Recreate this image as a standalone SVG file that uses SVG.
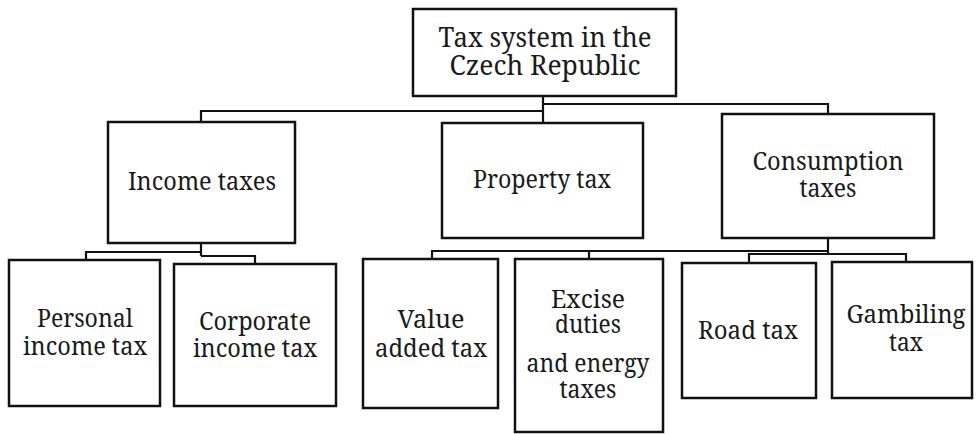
<svg xmlns="http://www.w3.org/2000/svg" width="976" height="434" viewBox="0 0 976 434">
<style>
.box{fill:#fff;stroke:#111;stroke-width:2.5}
.lbl{font-family:'Noto Serif','DejaVu Serif','Liberation Serif',serif;font-size:25px;fill:#1a1a1a;text-anchor:middle}
.root{font-size:27px}
.con{fill:none;stroke:#111;stroke-width:2.2}
</style>
<rect width="976" height="434" fill="#fff"/>
<g id="connectors">
<path class="con" d="M543,96V123M543,111H201V122M543,104H828V114"/>
<path class="con" d="M201,243V256M201,252H86V260M201,256H255V264"/>
<path class="con" d="M828,238V254M828,251H432V259M589,251V259M828,254H749V263M828,254H906V262"/>
</g>
<g id="root"><rect class="box" x="413" y="9" width="263" height="87"/><text class="lbl root" x="545" y="47" textLength="213" lengthAdjust="spacingAndGlyphs">Tax system in the</text><text class="lbl root" x="545" y="75" textLength="191" lengthAdjust="spacingAndGlyphs">Czech Republic</text></g>
<g id="income"><rect class="box" x="108" y="122" width="187" height="121"/><text class="lbl" x="202" y="190" textLength="148" lengthAdjust="spacingAndGlyphs">Income taxes</text></g>
<g id="property"><rect class="box" x="442" y="123" width="201" height="115"/><text class="lbl" x="542" y="188" textLength="138" lengthAdjust="spacingAndGlyphs">Property tax</text></g>
<g id="consumption"><rect class="box" x="722" y="114" width="212" height="124"/><text class="lbl" x="828" y="170" textLength="151" lengthAdjust="spacingAndGlyphs">Consumption</text><text class="lbl" x="828" y="197" textLength="57" lengthAdjust="spacingAndGlyphs">taxes</text></g>
<g id="personal"><rect class="box" x="9" y="260" width="151" height="146"/><text class="lbl" x="85" y="327" textLength="96" lengthAdjust="spacingAndGlyphs">Personal</text><text class="lbl" x="85" y="355" textLength="124" lengthAdjust="spacingAndGlyphs">income tax</text></g>
<g id="corporate"><rect class="box" x="174" y="264" width="162" height="142"/><text class="lbl" x="255" y="330" textLength="112" lengthAdjust="spacingAndGlyphs">Corporate</text><text class="lbl" x="255" y="357" textLength="124" lengthAdjust="spacingAndGlyphs">income tax</text></g>
<g id="vat"><rect class="box" x="363" y="259" width="135" height="149"/><text class="lbl" x="431" y="328" textLength="67" lengthAdjust="spacingAndGlyphs">Value</text><text class="lbl" x="431" y="357" textLength="112" lengthAdjust="spacingAndGlyphs">added tax</text></g>
<g id="excise"><rect class="box" x="515" y="259" width="148" height="173"/><text class="lbl" x="588" y="308" textLength="74" lengthAdjust="spacingAndGlyphs">Excise</text><text class="lbl" x="588" y="333" textLength="66" lengthAdjust="spacingAndGlyphs">duties</text><text class="lbl" x="588" y="372" textLength="123" lengthAdjust="spacingAndGlyphs">and energy</text><text class="lbl" x="588" y="398" textLength="57" lengthAdjust="spacingAndGlyphs">taxes</text></g>
<g id="road"><rect class="box" x="682" y="263" width="134" height="135"/><text class="lbl" x="748" y="339" textLength="100" lengthAdjust="spacingAndGlyphs">Road tax</text></g>
<g id="gambling"><rect class="box" x="832" y="262" width="140" height="136"/><text class="lbl" x="906" y="323" textLength="119" lengthAdjust="spacingAndGlyphs">Gambiling</text><text class="lbl" x="906" y="351" textLength="34" lengthAdjust="spacingAndGlyphs">tax</text></g>
</svg>
